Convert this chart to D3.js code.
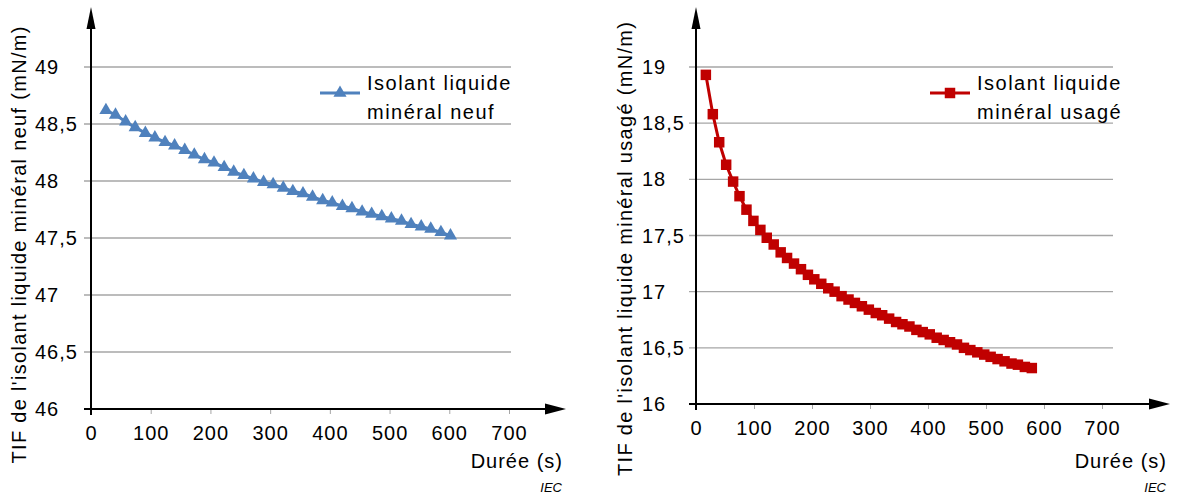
<!DOCTYPE html>
<html>
<head>
<meta charset="utf-8">
<script src="https://cdn.jsdelivr.net/npm/d3@7"></script>
<style>
	body { margin: 0; background: #fff; }
	svg text { font-family: "Liberation Sans", Arial, sans-serif; fill: #000; }
</style>
</head>
<body>
<svg width="1189" height="500"></svg>
<script>
// new mineral oil (left panel)
const NEW_TIMES = [25, 41, 58, 74, 91, 107, 124, 140, 157, 173, 190, 206, 223, 239, 256, 272, 289, 305,
	322, 338, 355, 371, 388, 404, 421, 437, 454, 470, 487, 503, 520, 536, 553, 569, 586, 602];
const NEW_TIF = [48.62, 48.58, 48.52, 48.47, 48.42, 48.38, 48.34, 48.31, 48.27, 48.23, 48.19, 48.16,
	48.12, 48.08, 48.05, 48.02, 47.99, 47.97, 47.94, 47.91, 47.89, 47.86, 47.83, 47.81, 47.78, 47.76,
	47.73, 47.71, 47.69, 47.67, 47.65, 47.62, 47.60, 47.58, 47.55, 47.52];

// used mineral oil (right panel)
const USED_TIMES = [17, 29, 40, 52, 64, 75, 87, 99, 111, 122, 134, 146, 157, 169, 181, 193, 204, 216,
	228, 239, 251, 263, 274, 286, 298, 310, 321, 333, 345, 356, 368, 380, 391, 403, 415, 427, 438, 450,
	462, 473, 485, 497, 508, 520, 532, 544, 555, 567, 579];
const USED_TIF = [18.93, 18.58, 18.33, 18.13, 17.98, 17.85, 17.73, 17.63, 17.55, 17.48, 17.42, 17.35,
	17.30, 17.25, 17.20, 17.15, 17.11, 17.07, 17.03, 17.00, 16.96, 16.93, 16.90, 16.87, 16.84, 16.81,
	16.79, 16.76, 16.73, 16.71, 16.69, 16.66, 16.64, 16.62, 16.59, 16.57, 16.55, 16.53, 16.50, 16.48,
	16.46, 16.44, 16.42, 16.40, 16.38, 16.36, 16.35, 16.33, 16.32];

const X_TICKS = [0, 100, 200, 300, 400, 500, 600, 700];
const NEW_Y_TICKS = [46, 46.5, 47, 47.5, 48, 48.5, 49];
const USED_Y_TICKS = [16, 16.5, 17, 17.5, 18, 18.5, 19];

const NEW_LEGEND = ['Isolant liquide', 'minéral neuf'];
const USED_LEGEND = ['Isolant liquide', 'minéral usagé'];
const X_TITLE = 'Durée (s)';
const NEW_Y_TITLE = "TIF de l'isolant liquide minéral neuf (mN/m)";
const USED_Y_TITLE = "TIF de l'isolant liquide minéral usagé (mN/m)";
const SOURCE = 'IEC';

const frLocale = d3.formatLocale({ decimal: ',', thousands: ' ', grouping: [3], currency: ['', ' €'] });
const fmt = frLocale.format('~g');

function drawPanel(svg, p) {
	const g = svg.append('g');
	const x = d3.scaleLinear().domain([0, 700]).range([p.x0, p.x700]);
	const y = d3.scaleLinear().domain([p.yTicks[0], p.yTicks[p.yTicks.length - 1]]).range([p.yBottom, p.yTop]);

	/* horizontal gridlines */
	g.selectAll('.grid')
		.data(p.yTicks.slice(1))
		.enter().append('line')
			.attr('x1', p.x0 - 7)
			.attr('x2', p.gridEnd)
			.attr('y1', d => y(d))
			.attr('y2', d => y(d))
			.style('stroke', '#a6a6a6')
			.style('stroke-width', 1.3);

	/* x axis: ticks below the line, labels under them */
	const xAxis = d3.axisBottom(x).tickValues(X_TICKS).tickSize(5).tickPadding(12).tickFormat(d3.format('d'));
	const gx = g.append('g').attr('transform', `translate(0,${p.yBottom})`).call(xAxis);
	gx.select('.domain').remove();
	gx.selectAll('.tick line').style('stroke', '#a6a6a6');
	gx.selectAll('.tick text')
		.style('font-size', '20px')
		.style('letter-spacing', '1px')
		.style('font-family', '"Liberation Sans", Arial, sans-serif');

	/* y axis labels, left aligned */
	g.selectAll('.ylab')
		.data(p.yTicks)
		.enter().append('text')
			.attr('x', p.labelX)
			.attr('y', d => y(d) + 7)
			.style('font-size', '20px')
			.style('letter-spacing', '1px')
			.text(d => fmt(d));

	/* axis lines with arrows */
	g.append('line')
		.attr('x1', p.x0 - 7).attr('x2', p.arrowX - 18)
		.attr('y1', p.yBottom).attr('y2', p.yBottom)
		.style('stroke', '#000').style('stroke-width', 2);
	g.append('path')
		.attr('d', `M${p.arrowX},${p.yBottom} L${p.arrowX - 21},${p.yBottom - 5.5} L${p.arrowX - 21},${p.yBottom + 5.5} Z`)
		.style('fill', '#000');
	g.append('line')
		.attr('x1', p.x0).attr('x2', p.x0)
		.attr('y1', p.yBottom + 6).attr('y2', 26)
		.style('stroke', '#000').style('stroke-width', 2);
	g.append('path')
		.attr('d', `M${p.x0},7 L${p.x0 - 4.5},29 L${p.x0 + 4.5},29 Z`)
		.style('fill', '#000');

	/* series */
	const data = p.times.map((t, i) => ({ x: t, y: p.values[i] }));
	const line = d3.line().x(d => x(d.x)).y(d => y(d.y));
	g.append('path')
		.datum(data)
		.attr('d', line)
		.style('fill', 'none')
		.style('stroke', p.color)
		.style('stroke-width', 3);
	const sym = d3.symbol().type(p.symbol).size(p.symbolSize);
	g.selectAll('.pt')
		.data(data)
		.enter().append('path')
			.attr('d', sym)
			.attr('transform', d => `translate(${x(d.x)},${y(d.y)})`)
			.style('fill', p.color);

	/* legend */
	g.append('line')
		.attr('x1', p.legendX).attr('x2', p.legendX + 40)
		.attr('y1', 93).attr('y2', 93)
		.style('stroke', p.color).style('stroke-width', 3);
	g.append('path')
		.attr('d', sym)
		.attr('transform', `translate(${p.legendX + 20},93)`)
		.style('fill', p.color);
	g.selectAll('.leg')
		.data(p.legend)
		.enter().append('text')
			.attr('x', p.legendX + 47)
			.attr('y', (d, i) => 90 + i * 28.5)
			.style('font-size', '20px')
			.style('letter-spacing', '1.5px')
			.text(d => d);

	/* titles */
	g.append('text')
		.attr('transform', `translate(${p.titleX},${p.titleY}) rotate(-90)`)
		.attr('text-anchor', 'middle')
		.attr('textLength', p.titleLen)
		.attr('lengthAdjust', 'spacing')
		.style('font-size', '20px')
		.text(p.title);
	g.append('text')
		.attr('x', p.arrowX - 3)
		.attr('y', 468)
		.attr('text-anchor', 'end')
		.style('font-size', '20px')
		.style('letter-spacing', '1px')
		.text(X_TITLE);
	g.append('text')
		.attr('x', p.arrowX - 4)
		.attr('y', 492)
		.attr('text-anchor', 'end')
		.style('font-size', '13px')
		.style('font-style', 'italic')
		.text(SOURCE);
}

whenLoaded(() => {
	const svg = d3.select('svg');
	svg.append('rect').attr('width', 1189).attr('height', 500).style('fill', '#fff');

	drawPanel(svg, {
		x0: 91, x700: 509, yBottom: 409, yTop: 67, gridEnd: 511, arrowX: 566,
		labelX: 35, legendX: 320, titleX: 26, titleY: 245, titleLen: 437,
		yTicks: NEW_Y_TICKS, times: NEW_TIMES, values: NEW_TIF, legend: NEW_LEGEND,
		title: NEW_Y_TITLE, color: '#4f81bd', symbol: d3.symbolTriangle, symbolSize: 75
	});
	drawPanel(svg, {
		x0: 696, x700: 1102, yBottom: 404, yTop: 67, gridEnd: 1113, arrowX: 1170,
		labelX: 642, legendX: 930, titleX: 632, titleY: 249, titleLen: 454,
		yTicks: USED_Y_TICKS, times: USED_TIMES, values: USED_TIF, legend: USED_LEGEND,
		title: USED_Y_TITLE, color: '#c00000', symbol: d3.symbolSquare, symbolSize: 110
	});
});

function whenLoaded(action) {
	if (document.readyState === 'loading') {
		document.addEventListener('DOMContentLoaded', action);
	} else {
		action();
	}
}
</script>
</body>
</html>
